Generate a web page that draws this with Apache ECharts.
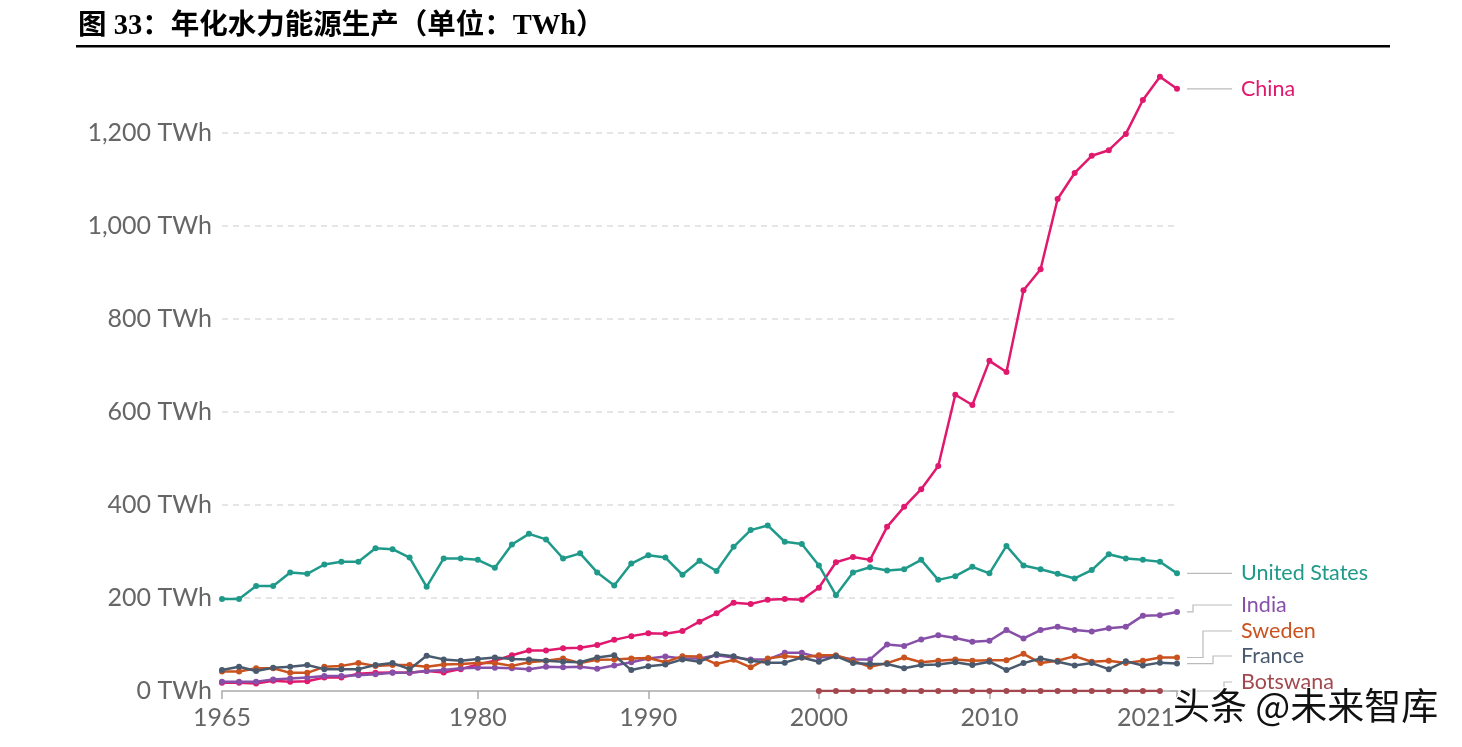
<!DOCTYPE html>
<html><head><meta charset="utf-8">
<script src="https://cdn.jsdelivr.net/npm/echarts@6/dist/echarts.min.js"></script>
<style>html,body{margin:0;padding:0;background:#fff}#c{width:1462px;height:747px}</style>
</head><body><div id="c"></div>
<script>
const years = [];
for (let y = 1965; y <= 2021; y++) years.push(String(y));
const xTickYears = ['1965','1980','1990','2000','2010','2021'];

const unitedStates = [198,198,226,226,255,252,272,278,278,307,
  305,287,224,285,285,282,265,315,338,326,
  285,296,255,227,274,292,287,250,280,258,
  310,346,356,321,316,270,206,255,266,259,
  262,282,239,247,267,253,312,270,262,252,
  242,260,294,285,282,278,253];
const china = [18,18,16,22,20,21,29,29,37,39,
  40,39,43,40,47,57,65,77,87,87,
  92,93,99,110,118,124,123,129,149,167,
  190,187,196,198,196,222,277,288,282,353,
  396,434,484,637,615,710,686,862,907,1058,
  1114,1151,1163,1198,1271,1321,1295];
const india = [20,20,20,25,27,29,32,32,34,36,
  39,39,43,45,49,50,50,49,47,52,
  51,52,48,55,62,70,74,70,70,77,
  72,68,68,82,82,72,75,68,68,100,
  97,111,120,114,106,108,131,113,131,138,
  131,128,135,138,162,163,170];
const sweden = [42,42,49,49,39,39,52,54,60,54,
  56,56,52,57,58,60,60,54,62,65,
  70,60,67,68,70,71,62,75,74,58,
  67,51,70,75,72,77,77,65,52,60,
  72,62,65,68,65,66,66,80,60,65,
  75,63,65,60,65,72,72];
const france = [45,52,43,50,52,56,47,47,47,56,
  60,47,76,68,65,69,72,69,68,65,
  63,62,72,77,45,53,57,68,63,79,
  75,65,61,61,72,63,75,60,58,58,
  49,56,57,62,56,63,45,60,70,63,
  55,60,47,64,55,61,59];
const botswana = [];
for (let i = 0; i < years.length; i++) {
  const y = +years[i];
  botswana.push(y >= 2000 && y <= 2020 ? 0 : null);
}
const yTicks = [0, 200, 400, 600, 800, 1000, 1200];

const seriesDefs = [
  {name: 'China', data: china, color: '#e0196e'},
  {name: 'United States', data: unitedStates, color: '#1f9a8a'},
  {name: 'India', data: india, color: '#8750a8'},
  {name: 'Sweden', data: sweden, color: '#c9521f'},
  {name: 'France', data: france, color: '#4a5a6e'},
  {name: 'Botswana', data: botswana, color: '#a3484f'}
];
// label placement (pixel y for stacked labels, null = at line end); bend x of leader
const labelLayout = {
  'China': {y: null, bend: null},
  'United States': {y: null, bend: null},
  'India': {y: 605, bend: 1193},
  'Sweden': {y: 631, bend: 1203},
  'France': {y: 656, bend: 1213},
  'Botswana': {y: 682, bend: 1224}
};

const chart = echarts.init(document.getElementById('c'));
const font = 'Lato, "Noto Sans", sans-serif';
chart.setOption({
  animation: false,
  grid: {left: 222, right: 285, top: 40, bottom: 56, containLabel: false},
  xAxis: {
    type: 'category', data: years, boundaryGap: false,
    axisLine: {lineStyle: {color: '#aaa', width: 1.5}},
    axisTick: {show: true, alignWithLabel: true, length: 8, lineStyle: {color: '#aaa', width: 1.5},
      interval: (i, v) => xTickYears.includes(v)},
    axisLabel: {
      interval: (i, v) => xTickYears.includes(v),
      color: '#666', fontSize: 25, fontFamily: font, margin: 14,
      formatter: v => v === '2021' ? '{r|' + v + '}' : v,
      rich: {r: {color: '#666', fontSize: 25, fontFamily: font, padding: [0, 62, 0, 0]}}
    },
    splitLine: {show: false}
  },
  yAxis: {
    type: 'value', min: 0, max: 1400, interval: 200,
    axisLine: {show: false}, axisTick: {show: false},
    axisLabel: {
      color: '#666', fontSize: 25, fontFamily: font, margin: 10, showMaxLabel: false,
      formatter: v => yTicks.includes(v) ? v.toLocaleString('en-US') + ' TWh' : ''
    },
    splitLine: {show: true, showMinLine: false, showMaxLine: false,
      lineStyle: {color: '#ddd', type: [6, 5], width: 1.5}}
  },
  series: seriesDefs.map(s => ({
    name: s.name, type: 'line', data: s.data,
    symbol: 'circle', symbolSize: 6, showSymbol: true,
    connectNulls: false,
    lineStyle: {color: s.color, width: 2.5},
    itemStyle: {color: s.color},
    emphasis: {disabled: true}
  }))
});

function lastIndex(arr) {
  for (let i = arr.length - 1; i >= 0; i--) if (arr[i] !== null && arr[i] !== undefined) return i;
  return -1;
}
const graphics = [];
seriesDefs.forEach(s => {
  const li = lastIndex(s.data);
  const p = chart.convertToPixel({gridIndex: 0}, [li, s.data[li]]);
  const lay = labelLayout[s.name];
  const ly = lay.y === null ? p[1] : lay.y;
  const x0 = p[0] + 10, x1 = 1232;
  let pts;
  if (lay.bend === null) pts = [[x0, p[1]], [x1, ly]];
  else pts = [[x0, p[1]], [lay.bend, p[1]], [lay.bend, ly], [x1, ly]];
  graphics.push({type: 'polyline', shape: {points: pts}, style: {stroke: '#bbb', lineWidth: 1.2, fill: null}, silent: true});
  graphics.push({type: 'text', x: 1241, y: ly,
    style: {text: s.name, fill: s.color, font: '21.5px ' + font, verticalAlign: 'middle', align: 'left'}, silent: true});
});
// title
graphics.push({type: 'text', left: 78, top: 12,
  style: {text: '图 33：年化水力能源生产（单位：TWh）', fill: '#000',
    font: 'bold 28.5px "Liberation Serif", "Noto Sans CJK SC", serif'}});
graphics.push({type: 'rect', shape: {x: 76, y: 45, width: 1314, height: 2.5}, style: {fill: '#000'}});
// watermark
graphics.push({type: 'text', left: 1172, top: 686,
  style: {text: '头条 @未来智库', fill: '#111', stroke: '#fff', lineWidth: 2,
    font: '37px "Noto Sans CJK SC", sans-serif'}, z: 100});
chart.setOption({graphic: graphics});
</script></body></html>
